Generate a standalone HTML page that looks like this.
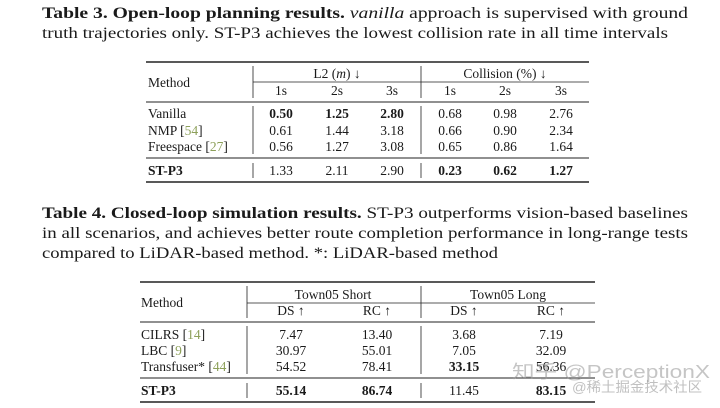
<!DOCTYPE html>
<html><head><meta charset="utf-8"><style>
html,body{margin:0;padding:0;background:#fff;}
svg{display:block;}
text{font-family:"Liberation Serif","Noto Serif CJK SC",serif;fill:#1a1a1a;}
.t{font-size:13.5px;}
.b{font-weight:bold;}
.c{fill:#8da05a;}
.cap{font-size:15.5px;}
</style></head><body>
<svg width="720" height="408" viewBox="0 0 720 408">
<g>
<text class="cap" x="42" y="18" textLength="646" lengthAdjust="spacingAndGlyphs"><tspan class="b">Table 3. Open-loop planning results.</tspan> <tspan font-style="italic">vanilla</tspan> approach is supervised with ground</text>
<text class="cap" x="42" y="38" textLength="626" lengthAdjust="spacingAndGlyphs">truth trajectories only. ST-P3 achieves the lowest collision rate in all time intervals</text>
</g>
<g stroke="#222">
<line x1="146" y1="62" x2="589" y2="62" stroke-width="1.5"/>
<line x1="253" y1="82" x2="589" y2="82" stroke-width="0.8"/>
<line x1="146" y1="102" x2="589" y2="102" stroke-width="1"/>
<line x1="146" y1="158" x2="589" y2="158" stroke-width="1"/>
<line x1="146" y1="182" x2="589" y2="182" stroke-width="1.5"/>
<line x1="253" y1="66" x2="253" y2="98" stroke-width="0.8"/>
<line x1="421" y1="66" x2="421" y2="98" stroke-width="0.8"/>
<line x1="253" y1="106" x2="253" y2="154" stroke-width="0.8"/>
<line x1="421" y1="106" x2="421" y2="154" stroke-width="0.8"/>
<line x1="253" y1="163" x2="253" y2="178" stroke-width="0.8"/>
<line x1="421" y1="163" x2="421" y2="178" stroke-width="0.8"/>
</g>
<g class="t" stroke="none">
<text x="148" y="87">Method</text>
<text x="337" y="78" text-anchor="middle">L2 (<tspan font-style="italic">m</tspan>) ↓</text>
<text x="505" y="78" text-anchor="middle">Collision (%) ↓</text>
<text x="281" y="95" text-anchor="middle">1s</text><text x="337" y="95" text-anchor="middle">2s</text><text x="392" y="95" text-anchor="middle">3s</text>
<text x="450" y="95" text-anchor="middle">1s</text><text x="505" y="95" text-anchor="middle">2s</text><text x="561" y="95" text-anchor="middle">3s</text>
<text x="148" y="118">Vanilla</text>
<text class="b" x="281" y="118" text-anchor="middle">0.50</text><text class="b" x="337" y="118" text-anchor="middle">1.25</text><text class="b" x="392" y="118" text-anchor="middle">2.80</text>
<text x="450" y="118" text-anchor="middle">0.68</text><text x="505" y="118" text-anchor="middle">0.98</text><text x="561" y="118" text-anchor="middle">2.76</text>
<text x="148" y="135">NMP [<tspan class="c">54</tspan>]</text>
<text x="281" y="135" text-anchor="middle">0.61</text><text x="337" y="135" text-anchor="middle">1.44</text><text x="392" y="135" text-anchor="middle">3.18</text>
<text x="450" y="135" text-anchor="middle">0.66</text><text x="505" y="135" text-anchor="middle">0.90</text><text x="561" y="135" text-anchor="middle">2.34</text>
<text x="148" y="151">Freespace [<tspan class="c">27</tspan>]</text>
<text x="281" y="151" text-anchor="middle">0.56</text><text x="337" y="151" text-anchor="middle">1.27</text><text x="392" y="151" text-anchor="middle">3.08</text>
<text x="450" y="151" text-anchor="middle">0.65</text><text x="505" y="151" text-anchor="middle">0.86</text><text x="561" y="151" text-anchor="middle">1.64</text>
<text class="b" x="148" y="175">ST-P3</text>
<text x="281" y="175" text-anchor="middle">1.33</text><text x="337" y="175" text-anchor="middle">2.11</text><text x="392" y="175" text-anchor="middle">2.90</text>
<text class="b" x="450" y="175" text-anchor="middle">0.23</text><text class="b" x="505" y="175" text-anchor="middle">0.62</text><text class="b" x="561" y="175" text-anchor="middle">1.27</text>
</g>
<g>
<text class="cap" x="42" y="218" textLength="646" lengthAdjust="spacingAndGlyphs"><tspan class="b">Table 4. Closed-loop simulation results.</tspan> ST-P3 outperforms vision-based baselines</text>
<text class="cap" x="42" y="238" textLength="646" lengthAdjust="spacingAndGlyphs">in all scenarios, and achieves better route completion performance in long-range tests</text>
<text class="cap" x="42" y="258" textLength="456" lengthAdjust="spacingAndGlyphs">compared to LiDAR-based method. *: LiDAR-based method</text>
</g>
<g stroke="#222">
<line x1="140" y1="282" x2="595" y2="282" stroke-width="1.5"/>
<line x1="247" y1="303" x2="595" y2="303" stroke-width="0.8"/>
<line x1="140" y1="322" x2="595" y2="322" stroke-width="1"/>
<line x1="140" y1="378" x2="595" y2="378" stroke-width="1"/>
<line x1="140" y1="402" x2="595" y2="402" stroke-width="1.5"/>
<line x1="247" y1="286" x2="247" y2="318" stroke-width="0.8"/>
<line x1="421" y1="286" x2="421" y2="318" stroke-width="0.8"/>
<line x1="247" y1="326" x2="247" y2="374" stroke-width="0.8"/>
<line x1="421" y1="326" x2="421" y2="374" stroke-width="0.8"/>
<line x1="247" y1="383" x2="247" y2="398" stroke-width="0.8"/>
<line x1="421" y1="383" x2="421" y2="398" stroke-width="0.8"/>
</g>
<g class="t">
<text x="141" y="307">Method</text>
<text x="333" y="299" text-anchor="middle">Town05 Short</text>
<text x="508" y="299" text-anchor="middle">Town05 Long</text>
<text x="291" y="315" text-anchor="middle">DS ↑</text><text x="377" y="315" text-anchor="middle">RC ↑</text>
<text x="464" y="315" text-anchor="middle">DS ↑</text><text x="551" y="315" text-anchor="middle">RC ↑</text>
<text x="141" y="339">CILRS [<tspan class="c">14</tspan>]</text>
<text x="291" y="339" text-anchor="middle">7.47</text><text x="377" y="339" text-anchor="middle">13.40</text><text x="464" y="339" text-anchor="middle">3.68</text><text x="551" y="339" text-anchor="middle">7.19</text>
<text x="141" y="355">LBC [<tspan class="c">9</tspan>]</text>
<text x="291" y="355" text-anchor="middle">30.97</text><text x="377" y="355" text-anchor="middle">55.01</text><text x="464" y="355" text-anchor="middle">7.05</text><text x="551" y="355" text-anchor="middle">32.09</text>
<text x="141" y="371">Transfuser* [<tspan class="c">44</tspan>]</text>
<text x="291" y="371" text-anchor="middle">54.52</text><text x="377" y="371" text-anchor="middle">78.41</text><text class="b" x="464" y="371" text-anchor="middle">33.15</text><text x="551" y="371" text-anchor="middle">56.36</text>
<text class="b" x="141" y="395">ST-P3</text>
<text class="b" x="291" y="395" text-anchor="middle">55.14</text><text class="b" x="377" y="395" text-anchor="middle">86.74</text><text x="464" y="395" text-anchor="middle">11.45</text><text class="b" x="551" y="395" text-anchor="middle">83.15</text>
</g>
<g>
<text x="512" y="378" font-size="18" style="fill:rgba(150,150,150,0.55);font-family:'Liberation Sans','Noto Sans CJK SC',sans-serif" textLength="198" lengthAdjust="spacingAndGlyphs">知乎 @PerceptionX</text>
<text x="572" y="392" font-size="14" style="fill:rgba(150,150,150,0.6);font-family:'Liberation Sans','Noto Sans CJK SC',sans-serif" textLength="130" lengthAdjust="spacingAndGlyphs">@稀土掘金技术社区</text>
</g>
</svg>
</body></html>
